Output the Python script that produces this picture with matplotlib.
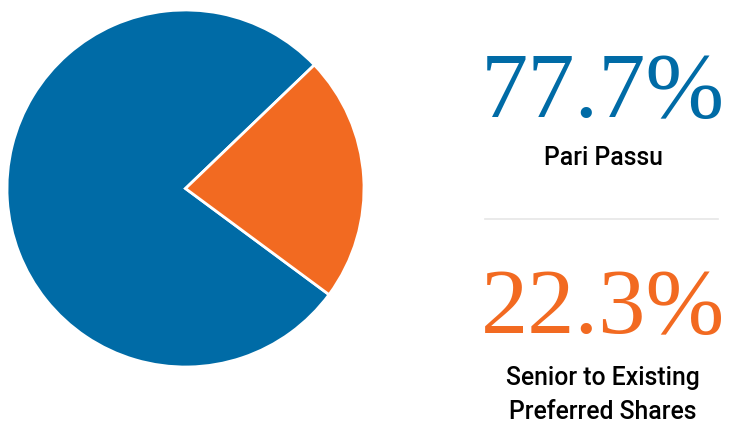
import matplotlib.pyplot as plt
from matplotlib.lines import Line2D

labels = ["Pari Passu", "Senior to Existing\nPreferred Shares"]
shares = [77.7, 22.3]
colors = ["#006BA6", "#F26A21"]

fig = plt.figure(figsize=(7.3, 4.25), dpi=100)

# pie on the left
ax = fig.add_axes([7 / 730, 58 / 425, 357 / 730, 357 / 425])
ax.pie(shares, colors=colors, startangle=43.8, counterclock=True,
       wedgeprops=dict(edgecolor="white", linewidth=2))
ax.set_xlim(-1, 1)
ax.set_ylim(-1, 1)
ax.set_aspect("equal")
ax.axis("off")

# big numbers + labels on the right
cx = 603 / 730
big = dict(family="Liberation Serif", fontsize=68, ha="center", va="baseline")
small = dict(family="Roboto", weight="medium", fontsize=17.8, ha="center",
             va="center", color="black", linespacing=1.55)

fig.text(cx, 1 - 117 / 425, f"{shares[0]:.1f}%", color=colors[0], **big)
fig.text(cx, 1 - 158 / 425, labels[0], **small)
fig.text(cx, 1 - 333 / 425, f"{shares[1]:.1f}%", color=colors[1], **big)
fig.text(cx, 1 - 395 / 425, labels[1], **small)

fig.add_artist(Line2D([485 / 730, 718 / 730], [1 - 219 / 425] * 2,
                      color="#e6e6e6", linewidth=1.2))

fig.savefig("out.png", dpi=100, facecolor="white")
